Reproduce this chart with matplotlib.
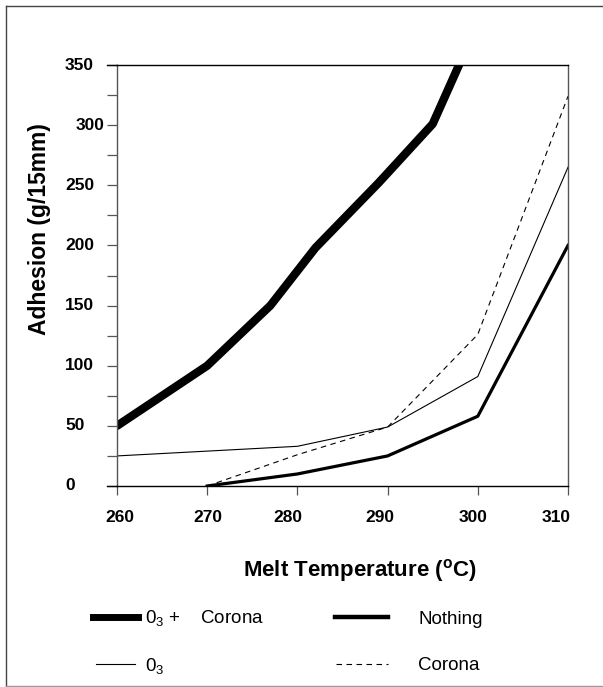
import matplotlib
matplotlib.use("Agg")
import matplotlib.pyplot as plt
from matplotlib.lines import Line2D

plt.rcParams['font.family'] = ['Liberation Sans', 'DejaVu Sans']
plt.rcParams['mathtext.fontset'] = 'custom'
plt.rcParams['mathtext.rm'] = 'Liberation Sans'
plt.rcParams['mathtext.it'] = 'Liberation Sans:italic'
plt.rcParams['mathtext.bf'] = 'Liberation Sans:bold'

# ---- data ----
temp_o3_corona = [260, 270, 277, 282, 289, 295, 300]
adh_o3_corona = [50, 100, 150, 198, 252, 301, 385]

temp_nothing = [270, 280, 290, 300, 310]
adh_nothing = [0, 10, 25, 58, 200]

temp_o3 = [260, 280, 290, 300, 310]
adh_o3 = [25, 33, 49, 91, 265]

temp_corona = [270, 280, 290, 300, 310]
adh_corona = [0, 26, 49, 126, 324]

x_ticks = [260, 270, 280, 290, 300, 310]
y_ticks = [0, 50, 100, 150, 200, 250, 300, 350]
y_minor = [25, 75, 125, 175, 225, 275, 325]

labels = ["0$_3$ +    Corona", "Nothing", "0$_3$", "Corona"]
x_title = r"Melt Temperature ($^{\mathbf{o}}$C)"
y_title = "Adhesion (g/15mm)"

# label nudges (pixels) to mimic the original rendering
x_label_dx = [3, 0.5, -10, -8, -4.5, -12]
y_label_dx = [0, 0, 0, 0, 0, 0, 11, 0]

W, H = 603, 687
fig = plt.figure(figsize=(W / 100, H / 100), dpi=100)
ax = fig.add_axes([117 / W, 1 - 486 / H, (568 - 117) / W, (486 - 65) / H])

ax.plot(temp_o3_corona, adh_o3_corona, color='black', lw=6.0,
        solid_joinstyle='round', solid_capstyle='round')
ax.plot(temp_nothing, adh_nothing, color='black', lw=2.3,
        solid_joinstyle='round')
ax.plot(temp_o3, adh_o3, color='black', lw=0.8)
ax.plot(temp_corona, adh_corona, color='black', lw=0.8, dashes=(5, 4))

ax.set_xlim(260, 310)
ax.set_ylim(0, 350)

ax.set_xticks(x_ticks)
ax.set_xticklabels([])
ax.set_yticks(y_ticks)
ax.set_yticks(y_minor, minor=True)
ax.set_yticklabels([])
ax.tick_params(axis='y', which='both', direction='out', length=7.2,
               width=0.9, color='#555555')
ax.tick_params(axis='x', direction='out', length=6.5, width=0.9,
               color='#555555')

for side in ['left', 'right']:
    ax.spines[side].set_color('#555555')
    ax.spines[side].set_linewidth(1.0)
for side in ['top', 'bottom']:
    ax.spines[side].set_color('black')
    ax.spines[side].set_linewidth(1.0)

# top and bottom lines extend to the tick ends on the left
fig.add_artist(Line2D([107 / W, 117 / W], [1 - 65 / H, 1 - 65 / H],
                      transform=fig.transFigure, color='black', lw=1.0))
fig.add_artist(Line2D([107 / W, 117 / W], [1 - 486 / H, 1 - 486 / H],
                      transform=fig.transFigure, color='black', lw=1.0))

tick_font = dict(fontsize=12.5, fontweight='bold')
for v, dx in zip(y_ticks, y_label_dx):
    ax.annotate(str(v), xy=(0, v), xycoords=('axes fraction', 'data'),
                xytext=((-52 + dx) * 0.72, 0), textcoords='offset points',
                ha='left', va='center', **tick_font)
for v, dx in zip(x_ticks, x_label_dx):
    ax.annotate(str(v), xy=(v, 0), xycoords=('data', 'axes fraction'),
                xytext=(dx * 0.72, -31 * 0.72), textcoords='offset points',
                ha='center', va='center', **tick_font)

fig.text(360 / W, 1 - 570 / H, x_title, ha='center', va='center',
         fontsize=16, fontweight='bold')
fig.text(40 / W, 1 - 229 / H, y_title, ha='center', va='center',
         rotation=90, fontsize=16.5, fontweight='bold')

# legend (manual 2x2 layout)
leg_rows = [617, 617, 664, 664]
leg_x0 = [93, 335, 96, 336]
leg_x1 = [138, 388, 135, 388]
leg_tx = [145, 418, 145, 418]
leg_lw = [5.0, 3.2, 0.8, 0.8]
leg_dash = [None, None, None, (5, 4)]
for lab, yr, x0, x1, tx, lw, ds in zip(labels, leg_rows, leg_x0, leg_x1,
                                       leg_tx, leg_lw, leg_dash):
    ln = Line2D([x0 / W, x1 / W], [1 - yr / H, 1 - yr / H],
                transform=fig.transFigure, color='black', lw=lw)
    if ds:
        ln.set_dashes(ds)
    fig.add_artist(ln)
    fig.text(tx / W, 1 - (yr + 6.5) / H, lab, ha='left', va='baseline',
             fontsize=13.5)

# outer frame (left, top, bottom)
fig.add_artist(Line2D([5.5 / W, 5.5 / W], [1 - 5.5 / H, 1 - 686 / H],
                      transform=fig.transFigure, color='#444444', lw=1.0))
fig.add_artist(Line2D([5.5 / W, 1], [1 - 5.5 / H, 1 - 5.5 / H],
                      transform=fig.transFigure, color='#444444', lw=1.0))
fig.add_artist(Line2D([5.5 / W, 1], [1 - 686 / H, 1 - 686 / H],
                      transform=fig.transFigure, color='#999999', lw=1.0))

fig.savefig("out.png", dpi=100)
